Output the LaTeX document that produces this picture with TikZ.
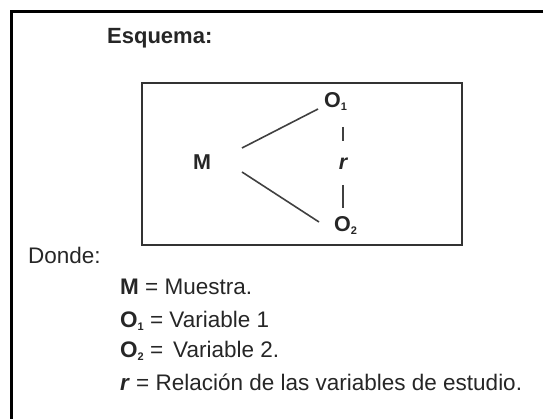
\documentclass[tikz,border=0pt]{standalone}
\usepackage{fontspec}
\setmainfont{Liberation Sans}
\newcommand{\smallsub}[1]{\raisebox{-2.5pt}{\fontsize{11}{12}\selectfont\bfseries #1}}
\begin{document}
\begin{tikzpicture}[x=1pt,y=-1pt,
  txt/.style={anchor=base west,inner sep=0pt,font=\fontsize{22.5}{26}\selectfont,text=black!85},
  lbl/.style={inner sep=0pt,font=\fontsize{21.5}{25}\selectfont\bfseries,text=black!85},
  link/.style={line width=1.6pt,draw=black!75}]
\useasboundingbox (0,0) rectangle (544,419);
\draw[line width=3pt] (543,12) -- (11,12) -- (11,419);
\node[txt,font=\fontsize{22}{26}\selectfont\bfseries] (esq) at (107,44) {Esquema:};
\draw[line width=1.8pt,draw=black!80] (142,83) rectangle (462,245);
\node[lbl] (M) at (202,162.5) {M};
\node[lbl,anchor=base west] (O1) at (324,108) {O\smallsub{1}};
\node[lbl,anchor=base west] (O2) at (334,232) {O\smallsub{2}};
\node[lbl,anchor=base,font=\fontsize{21.5}{25}\selectfont\bfseries\itshape] (r) at (343,170) {r};
\coordinate (m1) at (242,148);
\coordinate (o1) at (318,109);
\coordinate (m2) at (242,172);
\coordinate (o2) at (319,222);
\draw[link] (m1) -- (o1);
\draw[link] (m2) -- (o2);
\coordinate (d1a) at (343,127);
\coordinate (d1b) at (343,141);
\coordinate (d2a) at (343,185);
\coordinate (d2b) at (343,208);
\draw[link] (d1a) -- (d1b);
\draw[link] (d2a) -- (d2b);
\node[txt] (donde) at (28,264) {Donde:};
\node[txt] (l1) at (120,295) {\textbf{M} = Muestra.};
\node[txt] (l2) at (120,328) {\textbf{O\smallsub{1}} = Variable 1};
\node[txt] (l3) at (120,358) {\textbf{O\smallsub{2}} = \,Variable 2.};
\node[txt] (l4) at (120,391) {\textbf{\textit{r}} = Relación de las variables de estudio.};
\end{tikzpicture}
\end{document}
